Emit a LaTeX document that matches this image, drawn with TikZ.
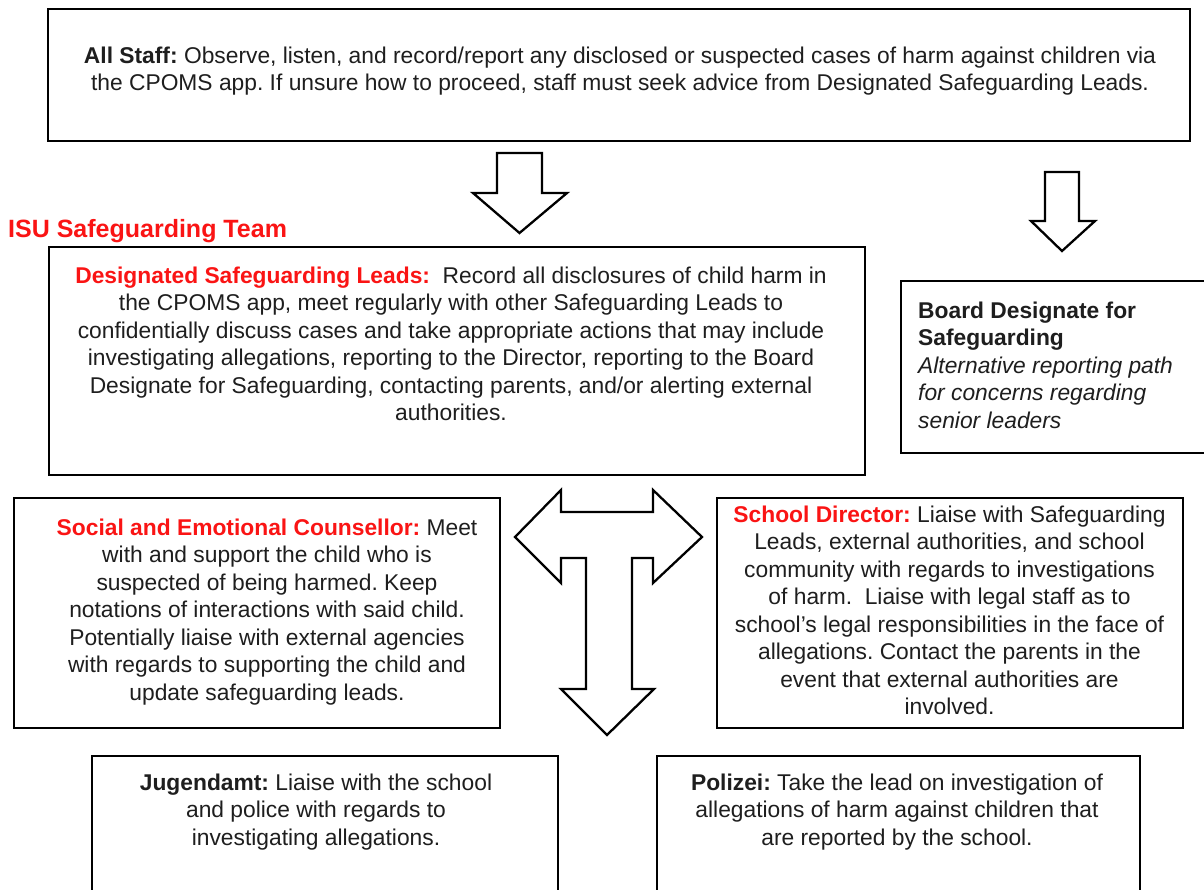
\documentclass[tikz,border=0pt]{standalone}
\usepackage{fontspec}
\setmainfont{Liberation Sans}
\frenchspacing
\definecolor{txt}{RGB}{30,30,30}
\definecolor{hired}{RGB}{250,20,20}
\newcommand{\redlbl}[1]{\textcolor{hired}{\textbf{#1}}}
\begin{document}
\begin{tikzpicture}[x=1pt,y=-1pt,
  boxstyle/.style={draw=black,line width=2.6pt,fill=none},
  blockarrow/.style={draw=black,line width=2.3pt,line join=miter,fill=white},
  bodytext/.style={inner sep=0pt,text=txt,font=\fontsize{22.8}{27.5}\selectfont},
]
\useasboundingbox (0,0) rectangle (1204,890);
\fill[white] (0,0) rectangle (1204,890);

% boxes
\draw[boxstyle] (48,9) rectangle (1190,141) node[pos=0.5,inner sep=0] (allstaff) {};
\draw[boxstyle] (49,247) rectangle (865,475) node[pos=0.5,inner sep=0] (dsl) {};
\draw[boxstyle] (901,281) rectangle (1220,453) node[pos=0.5,inner sep=0] (board) {};
\draw[boxstyle] (14,498) rectangle (500,728) node[pos=0.5,inner sep=0] (counsellor) {};
\draw[boxstyle] (717,498) rectangle (1183,728) node[pos=0.5,inner sep=0] (director) {};
\draw[boxstyle] (92,756) rectangle (558,905) node[pos=0.5,inner sep=0] (jugendamt) {};
\draw[boxstyle] (657,756) rectangle (1140,905) node[pos=0.5,inner sep=0] (polizei) {};

% block arrows
\draw[blockarrow] (497,153) -- (542,153) -- (542,193) -- (567,193) -- (519.5,233)
  -- (473,193) -- (497,193) -- cycle;
\draw[blockarrow] (1045,172) -- (1079,172) -- (1079,221) -- (1095,221) -- (1062,251)
  -- (1031,221) -- (1045,221) -- cycle;
\draw[blockarrow] (515,537) -- (561,490) -- (561,512) -- (653,512) -- (653,490)
  -- (702,537) -- (653,583) -- (653,558) -- (632,558) -- (632,689) -- (654,689)
  -- (607,735) -- (561,689) -- (586,689) -- (586,558) -- (561,558) -- (561,583) -- cycle;

% texts
\node[bodytext,anchor=north,align=center] (t-allstaff) at (620,{63-19.25})
 {\strut\textbf{All Staff:} Observe, listen, and record/report any disclosed or suspected cases of harm against children via\\
  the CPOMS app. If unsure how to proceed, staff must seek advice from Designated Safeguarding Leads.};

\node[inner sep=0pt,anchor=base west,text=hired,font=\fontsize{25}{29}\selectfont\bfseries] (isu) at (8,238) {ISU Safeguarding Team};

\node[bodytext,anchor=north,align=center] (t-dsl) at (451,{283-19.25})
 {\strut\redlbl{Designated Safeguarding Leads:}\ \ Record all disclosures of child harm in\\
  the CPOMS app, meet regularly with other Safeguarding Leads to\\
  confidentially discuss cases and take appropriate actions that may include\\
  investigating allegations, reporting to the Director, reporting to the Board\\
  Designate for Safeguarding, contacting parents, and/or alerting external\\
  authorities.};

\node[bodytext,anchor=north west,align=left] (t-board) at (918,{318-19.25})
 {\strut\textbf{Board Designate for}\\
  \textbf{Safeguarding}\\
  \textit{Alternative reporting path}\\
  \textit{for concerns regarding}\\
  \textit{senior leaders}};

\node[bodytext,anchor=north,align=center] (t-counsellor) at (267,{535-19.25})
 {\strut\redlbl{Social and Emotional Counsellor:} Meet\\
  with and support the child who is\\
  suspected of being harmed. Keep\\
  notations of interactions with said child.\\
  Potentially liaise with external agencies\\
  with regards to supporting the child and\\
  update safeguarding leads.};

\node[bodytext,anchor=north,align=center] (t-director) at (949.5,{522-19.25})
 {\strut\redlbl{School Director:} Liaise with Safeguarding\\
  Leads, external authorities, and school\\
  community with regards to investigations\\
  of harm.\ \ Liaise with legal staff as to\\
  school’s legal responsibilities in the face of\\
  allegations. Contact the parents in the\\
  event that external authorities are\\
  involved.};

\node[bodytext,anchor=north,align=center] (t-jugendamt) at (316,{790-19.25})
 {\strut\textbf{Jugendamt:} Liaise with the school\\
  and police with regards to\\
  investigating allegations.};

\node[bodytext,anchor=north,align=center] (t-polizei) at (897,{790-19.25})
 {\strut\textbf{Polizei:} Take the lead on investigation of\\
  allegations of harm against children that\\
  are reported by the school.};
\end{tikzpicture}
\end{document}
